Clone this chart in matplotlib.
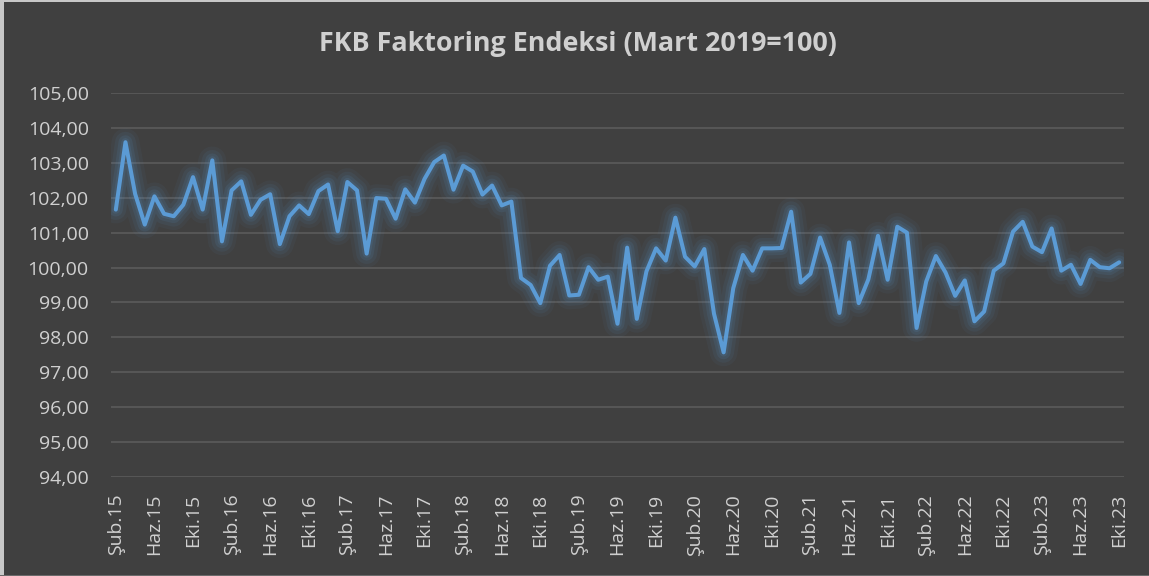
import matplotlib
matplotlib.use("Agg")
import matplotlib.pyplot as plt
from matplotlib.patches import Rectangle

# ---- data ----
month_names = ["Oca", "Şub", "Mar", "Nis", "May", "Haz", "Tem", "Ağu", "Eyl", "Eki", "Kas", "Ara"]
start_year, start_month = 2015, 2   # Şub.15
values = [
    101.66, 103.59, 102.11, 101.23, 102.04, 101.54, 101.47, 101.80, 102.59, 101.66,
    103.07, 100.75, 102.21, 102.47, 101.51, 101.94, 102.10, 100.67, 101.47, 101.78,
    101.53, 102.19, 102.38, 101.04, 102.45, 102.21, 100.40, 101.99, 101.97, 101.40,
    102.24, 101.86, 102.54, 103.02, 103.21, 102.23, 102.92, 102.75, 102.09, 102.35,
    101.78, 101.89, 99.70, 99.50, 98.98, 100.05, 100.36, 99.20, 99.22, 100.01,
    99.65, 99.74, 98.39, 100.57, 98.53, 99.89, 100.55, 100.20, 101.43, 100.31,
    100.03, 100.53, 98.68, 97.57, 99.41, 100.36, 99.91, 100.55, 100.55, 100.56,
    101.60, 99.57, 99.82, 100.86, 100.08, 98.70, 100.72, 98.98, 99.66, 100.91,
    99.65, 101.17, 101.00, 98.27, 99.60, 100.33, 99.86, 99.19, 99.63, 98.46,
    98.74, 99.91, 100.12, 101.03, 101.31, 100.60, 100.44, 101.12, 99.91, 100.08,
    99.53, 100.22, 100.01, 99.98, 100.15,
]
categories = []
for i in range(len(values)):
    m = (start_month - 1 + i) % 12
    y = start_year + (start_month - 1 + i) // 12
    categories.append(f"{month_names[m]}.{y % 100:02d}")
y_ticks = [94, 95, 96, 97, 98, 99, 100, 101, 102, 103, 104, 105]
title = "FKB Faktoring Endeksi (Mart 2019=100)"

# ---- style ----
bg = "#404040"
grid_c = "#595959"
line_c = "#5b9bd5"
text_c = "#d0d0d0"
font = ["Open Sans", "DejaVu Sans"]

fig = plt.figure(figsize=(11.49, 5.76), dpi=100)
fig.patch.set_facecolor(bg)
ax = fig.add_axes([111 / 1149, 1 - 477 / 576, (1124 - 111) / 1149, (477 - 93) / 576])
ax.set_facecolor(bg)

x = list(range(len(values)))
# glow
for lw, a in [(20, 0.05), (15, 0.07), (10, 0.10), (6, 0.12)]:
    ax.plot(x, values, color=line_c, lw=lw, alpha=a, solid_joinstyle="round",
            solid_capstyle="round", zorder=2)
ax.plot(x, values, color=line_c, lw=2.9, solid_joinstyle="round",
        solid_capstyle="round", zorder=3)

ax.set_xlim(-0.5, len(values) - 0.5)
ax.set_ylim(94, 105)
ax.set_yticks(y_ticks)
ax.set_yticklabels([f"{v:.2f}".replace(".", ",") for v in y_ticks],
                   fontsize=14, color=text_c, family=font)
tick_idx = list(range(0, len(values), 4))
ax.set_xticks(tick_idx)
ax.set_xticklabels([categories[i] for i in tick_idx], rotation=90,
                   fontsize=14, color=text_c, family=font)
ax.tick_params(axis="both", length=0)
ax.tick_params(axis="x", pad=12)
ax.tick_params(axis="y", pad=16)
ax.yaxis.grid(True, color=grid_c, lw=1.3)
ax.set_axisbelow(True)
for s in ax.spines.values():
    s.set_visible(False)

fig.text(0.503, 1 - 44 / 576, title, ha="center", va="center", fontsize=19.4,
         fontweight="bold", color=text_c, family=font)

# chart border remnants
fig.patches.append(Rectangle((0, 0), 4 / 1149, 1, transform=fig.transFigure,
                             facecolor="#c8c8c8", edgecolor="none", zorder=5))
fig.patches.append(Rectangle((0, 1 - 1.5 / 576), 1, 1.5 / 576, transform=fig.transFigure,
                             facecolor="#c8c8c8", edgecolor="none", zorder=5))
fig.patches.append(Rectangle((0, 0), 1, 1.5 / 576, transform=fig.transFigure,
                             facecolor="#6a6a6a", edgecolor="none", zorder=5))

fig.savefig("out.png", dpi=100, facecolor=fig.get_facecolor())
